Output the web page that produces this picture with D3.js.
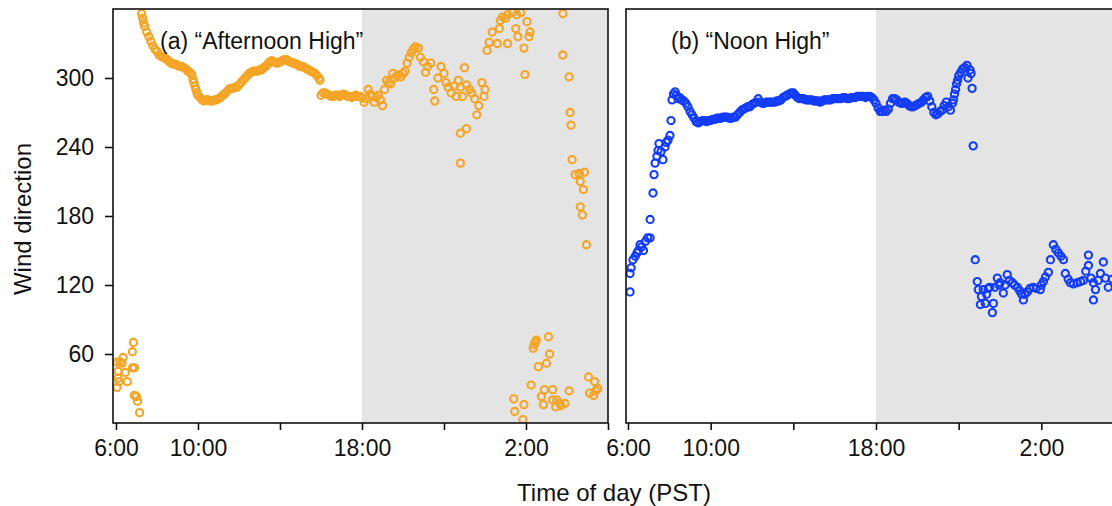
<!DOCTYPE html>
<html>
<head>
  <meta charset="utf-8">
  <title>Wind direction</title>
  <style>
    body { margin: 0; background: #fff; }
    text { font-family: "Liberation Sans", Arial, sans-serif; fill: #111; }
  </style>
</head>
<body>
  <svg width="1112" height="506"></svg>
  <script src="https://cdnjs.cloudflare.com/ajax/libs/d3/7.8.5/d3.min.js"></script>
  <script>
    // hour of day (6 = 6:00, 30 = 6:00 next day), wind direction (deg)
    const afternoonHigh = [
      [6.05,31],[6.05,53],[6.1,39],[6.1,45],[6.15,36],[6.2,53],[6.3,52],[6.35,57],[6.45,44],[6.55,36],
      [6.8,62],[6.85,70],[6.8,48],[6.9,48],[6.9,24],[7.0,23],[7.05,19],[7.15,9],
      [7.25,356],[7.3,352],[7.35,348],[7.4,345],[7.5,340],[7.6,336],[7.7,332],[7.8,328],[7.9,325],[8.0,323],
      [8.1,320],[8.2,319],[8.3,318],[8.4,317],[8.5,316],[8.6,314],[8.7,313],[8.8,312],[8.9,312],[9.0,311],
      [9.1,310],[9.2,310],[9.3,309],[9.4,308],[9.5,306],[9.6,305],[9.7,303],[9.75,299],[9.8,296],[9.85,293],
      [9.9,290],[9.95,287],[10.0,285],[10.1,283],[10.2,281],[10.3,280],[10.4,281],[10.5,281],[10.6,280],[10.7,280],
      [10.8,281],[10.9,281],[11.0,282],[11.1,283],[11.2,285],[11.3,286],[11.4,288],[11.5,290],[11.6,291],[11.7,291],
      [11.8,292],[11.9,292],[12.0,294],[12.1,296],[12.2,298],[12.3,300],[12.4,302],[12.5,304],[12.6,305],[12.7,306],
      [12.8,306],[12.9,306],[13.0,307],[13.1,307],[13.2,309],[13.3,310],[13.4,312],[13.5,314],[13.6,315],[13.7,314],
      [13.8,313],[13.9,313],[14.0,314],[14.1,315],[14.2,316],[14.3,316],[14.4,315],[14.5,314],[14.6,313],[14.7,313],
      [14.8,312],[14.9,311],[15.0,310],[15.1,310],[15.2,309],[15.3,308],[15.4,307],[15.5,306],[15.6,305],[15.7,304],
      [15.8,302],[15.9,300],[15.95,298],
      [16.0,285],[16.1,287],[16.2,287],[16.3,286],[16.4,285],[16.5,284],[16.6,284],[16.7,285],[16.8,285],[16.9,284],
      [17.0,285],[17.1,286],[17.2,285],[17.3,284],[17.4,284],[17.5,283],[17.6,284],[17.7,285],[17.8,284],[17.9,284],
      [18.0,283],[18.1,279],[18.2,282],
      [18.3,290],[18.4,286],[18.5,284],[18.6,279],[18.7,283],[18.8,285],[18.9,281],[19.0,276],[19.1,290],[19.2,298],
      [19.3,296],[19.4,295],[19.5,304],[19.6,300],[19.7,302],[19.8,303],[19.9,301],[20.0,304],[20.1,306],[20.2,313],
      [20.3,318],[20.4,322],[20.5,325],[20.6,327],[20.75,326],[20.85,318],[21.0,314],[21.1,305],[21.2,310],[21.35,313],
      [21.5,290],[21.55,280],[21.7,300],[21.85,310],[22.0,304],[22.1,296],[22.2,292],[22.35,287],[22.5,293],[22.6,284],
      [22.7,298],[22.8,292],[22.9,284],[23.0,309],[23.1,294],[23.25,290],[23.35,287],[23.5,282],[23.6,268],[23.7,276],
      [23.85,296],[23.95,284],[24.0,290],[22.8,252],[23.1,256],[22.8,226],
      [24.1,324],[24.2,331],[24.35,340],[24.6,330],[24.7,343],[24.75,350],[24.85,353],[25.0,352],[25.1,355],[25.1,330],
      [25.35,357],[25.5,343],[25.55,355],[25.6,336],[25.75,357],[25.9,326],[25.95,303],[26.05,349],[26.15,336],[26.2,340],
      [25.4,21],[25.45,10],[25.85,3],[25.9,16],
      [26.25,33],[26.35,65],[26.4,68],[26.45,70],[26.5,72],[26.6,49],[26.75,23],[26.85,16],[26.9,29],[27.0,52],
      [27.1,75],[27.15,60],[27.3,29],[27.3,20],[27.45,14],[27.5,20],[27.65,17],[27.7,15],[27.9,17],[28.1,28],
      [27.8,356],[27.8,320],[28.1,301],[28.15,270],[28.2,259],[28.25,229],[28.4,216],[28.6,217],[28.65,210],[28.8,203],
      [28.85,218],[28.65,188],[28.75,181],[28.95,155],
      [29.05,40],[29.1,26],[29.3,24],[29.35,36],[29.4,28],[29.5,30]
    ];

    const noonHigh = [
      [6.1,114],[6.1,130],[6.15,135],[6.24,142],[6.35,145],[6.44,148],[6.5,150],[6.58,155],[6.65,153],[6.75,150],
      [6.85,158],[6.95,161],[7.07,161],[7.07,177],[7.21,200],[7.26,216],[7.31,226],[7.4,232],[7.45,237],[7.5,243],
      [7.6,236],[7.69,229],[7.79,240],[7.85,244],[7.94,246],[8.03,250],[8.08,263],
      [8.13,281],[8.2,286],[8.28,288],[8.35,285],[8.42,282],[8.5,283],[8.6,281],[8.7,280],[8.8,278],[8.9,275],
      [9.0,271],[9.1,268],[9.2,265],[9.3,262],[9.4,261],[9.5,262],[9.6,263],[9.7,263],[9.8,262],[9.9,263],
      [10.0,263],[10.1,264],[10.2,264],[10.3,265],[10.4,265],[10.5,265],[10.6,266],[10.7,266],[10.8,266],[10.9,265],
      [11.0,265],[11.1,266],[11.2,266],[11.3,268],[11.4,270],[11.5,272],[11.6,273],[11.7,274],[11.8,275],[11.9,275],
      [12.0,277],[12.1,278],[12.2,279],[12.3,282],[12.4,279],[12.5,278],[12.6,278],[12.7,279],[12.8,279],[12.9,279],
      [13.0,279],[13.1,279],[13.2,280],[13.3,280],[13.4,281],[13.5,283],[13.6,284],[13.7,285],[13.8,286],[13.9,287],
      [14.0,287],[14.1,285],[14.2,283],[14.3,282],[14.4,282],[14.5,282],[14.6,281],[14.7,281],[14.8,281],[14.9,281],
      [15.0,280],[15.1,280],[15.2,280],[15.3,279],[15.4,280],[15.5,281],[15.6,281],[15.7,281],[15.8,281],[15.9,282],
      [16.0,282],[16.1,282],[16.2,282],[16.3,282],[16.4,283],[16.5,283],[16.6,282],[16.7,282],[16.8,283],[16.9,283],
      [17.0,283],[17.1,284],[17.2,284],[17.3,284],[17.4,284],[17.5,283],[17.6,284],[17.7,284],[17.8,283],[17.9,281],
      [18.0,278],[18.1,274],[18.2,271],[18.3,271],[18.4,272],[18.5,271],[18.6,273],[18.7,278],[18.8,282],[18.9,282],
      [19.0,281],[19.1,279],[19.2,278],[19.3,278],[19.4,279],[19.5,278],[19.6,276],[19.7,275],[19.8,275],[19.9,276],
      [20.0,277],[20.1,278],[20.2,279],[20.3,281],[20.4,283],[20.5,284],[20.6,280],[20.7,275],[20.8,270],[20.9,268],
      [21.0,269],[21.1,271],[21.2,272],[21.3,276],[21.4,279],[21.5,275],[21.6,272],[21.7,278],[21.75,281],[21.8,286],
      [21.85,290],[21.9,295],[21.95,298],[22.0,302],[22.1,305],[22.2,308],[22.3,309],[22.4,311],[22.45,300],[22.55,307],
      [22.6,304],[22.65,291],[22.7,241],
      [22.8,142],[22.9,123],[22.95,116],[23.05,103],[23.1,110],[23.19,116],[23.29,104],[23.35,112],[23.43,117],[23.5,118],
      [23.63,96],[23.68,104],[23.75,118],[23.87,126],[23.95,120],[24.01,122],[24.16,113],[24.25,120],[24.35,129],[24.45,124],
      [24.6,122],[24.7,120],[24.84,118],[24.95,115],[25.05,112],[25.13,107],[25.2,112],[25.32,114],[25.45,117],[25.61,118],
      [25.75,117],[25.95,116],[26.0,120],[26.1,123],[26.2,127],[26.34,131],[26.44,142],[26.58,155],[26.7,151],[26.82,148],
      [26.95,145],[27.07,142],[27.16,130],[27.3,125],[27.4,122],[27.55,121],[27.74,122],[27.9,123],[28.03,124],[28.15,132],
      [28.28,146],[28.28,137],[28.4,126],[28.52,122],[28.52,107],[28.62,116],[28.75,124],[28.86,130],[29.0,140],[29.1,126],
      [29.24,118],[29.43,125]
    ];

    const xTicks = [6, 10, 14, 18, 22, 26, 30];
    const xLabels = ["6:00", "10:00", "", "18:00", "", "2:00", ""];
    const yTicks = [60, 120, 180, 240, 300];
    const panelTitles = ["(a) \u201cAfternoon High\u201d", "(b) \u201cNoon High\u201d"];

    const svg = d3.select("svg");
    const plotTop = 9, plotBottom = 423;
    const y = d3.scaleLinear().domain([0, 360]).range([plotBottom, plotTop]);

    const panels = [
      { data: afternoonHigh, color: "#F5A425", box: [113, 608], range: [116, 608], title: panelTitles[0], tx: 160 },
      { data: noonHigh, color: "#123CFA", box: [626, 1125], range: [628, 1124], title: panelTitles[1], tx: 671 }
    ];

    panels.forEach((p, i) => {
      const x = d3.scaleLinear().domain([6, 30]).range(p.range);
      const g = svg.append("g");
      const clipId = "clip" + i;
      svg.append("clipPath").attr("id", clipId)
         .append("rect")
         .attr("x", p.box[0]).attr("y", plotTop)
         .attr("width", p.box[1] - p.box[0]).attr("height", plotBottom - plotTop);

      // night shading from 18:00
      g.append("rect")
       .attr("x", x(18)).attr("y", plotTop)
       .attr("width", p.box[1] - x(18)).attr("height", plotBottom - plotTop)
       .attr("fill", "#e4e4e4");

      g.append("g").attr("clip-path", "url(#" + clipId + ")")
       .selectAll("circle")
       .data(p.data)
       .enter().append("circle")
       .attr("cx", d => x(d[0]))
       .attr("cy", d => y(d[1]))
       .attr("r", 3.6)
       .attr("fill", "none")
       .attr("stroke", p.color)
       .attr("stroke-width", 2.1);

      g.append("rect")
       .attr("x", p.box[0]).attr("y", plotTop)
       .attr("width", p.box[1] - p.box[0]).attr("height", plotBottom - plotTop)
       .attr("fill", "none").attr("stroke", "#111").attr("stroke-width", 1.6);

      const xAxis = d3.axisBottom(x).tickValues(xTicks)
                      .tickFormat((d, j) => xLabels[j])
                      .tickSize(7).tickSizeOuter(0).tickPadding(10);
      const ax = g.append("g")
                  .attr("transform", "translate(0," + plotBottom + ")")
                  .call(xAxis);
      ax.select(".domain").remove();
      ax.selectAll("line").attr("stroke", "#111").attr("stroke-width", 1.6);
      ax.selectAll("text").attr("font-size", 23).attr("fill", "#111")
        .attr("font-family", "Liberation Sans, Arial, sans-serif");

      g.append("text")
       .attr("x", p.tx).attr("y", 49)
       .attr("font-size", 23)
       .text(p.title);
    });

    const yAxis = d3.axisLeft(y).tickValues(yTicks).tickSize(8).tickSizeOuter(0).tickPadding(11);
    const ay = svg.append("g").attr("transform", "translate(113,0)").call(yAxis);
    ay.select(".domain").remove();
    ay.selectAll("line").attr("stroke", "#111").attr("stroke-width", 1.6);
    ay.selectAll("text").attr("font-size", 23).attr("fill", "#111")
      .attr("font-family", "Liberation Sans, Arial, sans-serif");

    svg.append("text")
       .attr("transform", "translate(31,219) rotate(-90)")
       .attr("text-anchor", "middle")
       .attr("font-size", 24)
       .text("Wind direction");

    svg.append("text")
       .attr("x", 614).attr("y", 501)
       .attr("text-anchor", "middle")
       .attr("font-size", 24)
       .text("Time of day (PST)");
  </script>
</body>
</html>
